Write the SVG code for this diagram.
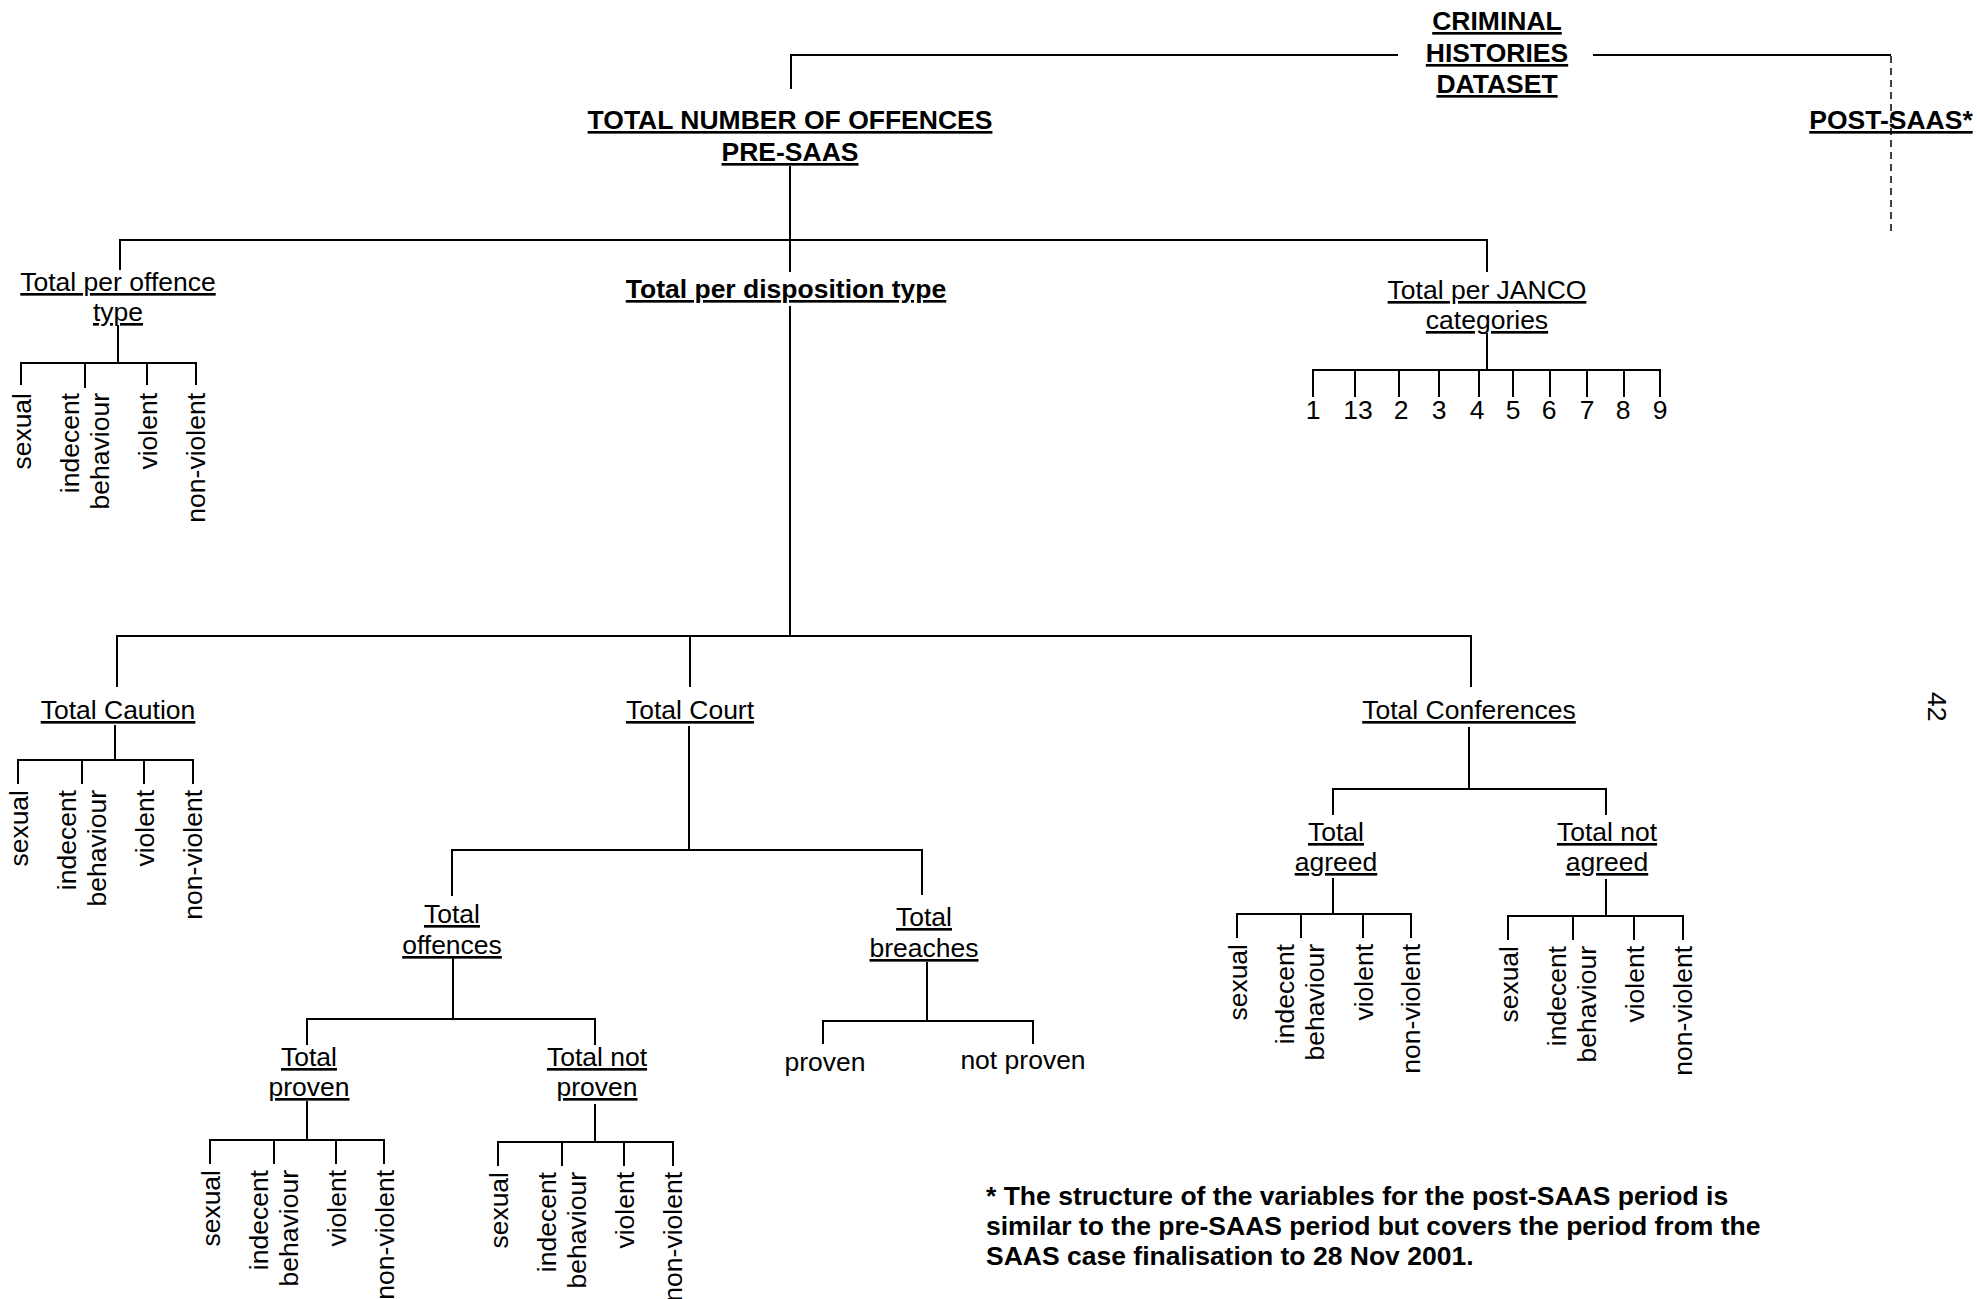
<svg xmlns="http://www.w3.org/2000/svg" width="1980" height="1299" viewBox="0 0 1980 1299">
<style>
text{font-family:"Liberation Sans",Arial,Helvetica,sans-serif;font-size:26.5px;fill:#000}
.b{font-weight:bold}
.u{text-decoration:underline}
.c{text-anchor:middle}
.e{text-anchor:end}
.cn line,.cn path{stroke:#000;stroke-width:2;fill:none}
.cn .d{stroke-width:1.5;stroke-dasharray:7 5}
</style>
<rect width="1980" height="1299" fill="#fff"/>
<g id="connectors" class="cn">
<path d="M791,89 V55 H1398 M1593,55 H1891"/>
<line class="d" x1="1891" y1="56" x2="1891" y2="231"/>
<path d="M790,166 V272 M790,306 V636"/>
<path d="M120,270 V240 H1487 V272"/>
<path d="M118,325 V363 M21,385 V363 H196 V385 M85,363 V388 M147,363 V385"/>
<path d="M1487,333 V370 M1313,397 V370 H1660 V397 M1355,370 V397 M1399,370 V397 M1439,370 V397 M1479,370 V397 M1513,370 V397 M1550,370 V397 M1587,370 V397 M1624,370 V397"/>
<path d="M117,687 V636 H1471 V687 M690,636 V687"/>
<path d="M115,725 V760 M18,784 V760 H193 V784 M82,760 V784 M144,760 V784"/>
<path d="M689,726 V850 M452,896 V850 H922 V895"/>
<path d="M453,958 V1019 M307,1045 V1019 H595 V1045"/>
<path d="M307,1101 V1140 M210,1164 V1140 H384 V1164 M274,1140 V1164 M336,1140 V1164"/>
<path d="M595,1104 V1142 M498,1166 V1142 H673 V1166 M562,1142 V1166 M624,1142 V1166"/>
<path d="M927,962 V1021 M823,1044 V1021 H1033 V1044"/>
<path d="M1469,727 V789 M1333,815 V789 H1606 V815"/>
<path d="M1333,878 V914 M1237,938 V914 H1411 V938 M1301,914 V938 M1363,914 V938"/>
<path d="M1606,879 V916 M1508,940 V916 H1683 V940 M1573,916 V940 M1634,916 V940"/>
</g>
<g id="n-criminal"><text class="b u c"><tspan x="1497" y="30">CRIMINAL</tspan><tspan x="1497" y="62">HISTORIES</tspan><tspan x="1497" y="93">DATASET</tspan></text></g>
<g id="n-pre"><text class="b u c"><tspan x="790" y="129">TOTAL NUMBER OF OFFENCES</tspan><tspan x="790" y="161">PRE-SAAS</tspan></text></g>
<g id="n-post"><text class="b u c" x="1891" y="129">POST-SAAS*</text></g>
<g id="n-offtype"><text class="u c"><tspan x="118" y="291">Total per offence</tspan><tspan x="118" y="321">type</tspan></text></g>
<g id="n-disp"><text class="b u c" x="786" y="298">Total per disposition type</text></g>
<g id="n-janco"><text class="u c"><tspan x="1487" y="299">Total per JANCO</tspan><tspan x="1487" y="329">categories</tspan></text></g>
<g id="n-janco-leaves">
<text class="c" x="1313" y="419">1</text><text class="c" x="1358" y="419">13</text><text class="c" x="1401" y="419">2</text><text class="c" x="1439" y="419">3</text><text class="c" x="1477" y="419">4</text><text class="c" x="1513" y="419">5</text><text class="c" x="1549" y="419">6</text><text class="c" x="1587" y="419">7</text><text class="c" x="1623" y="419">8</text><text class="c" x="1660" y="419">9</text>
</g>
<g id="n-offtype-leaves">
<text class="e" transform="translate(31,393) rotate(-90)">sexual</text>
<text class="e" transform="translate(79,393) rotate(-90)"><tspan x="0" y="0">indecent</tspan><tspan x="0" y="30">behaviour</tspan></text>
<text class="e" transform="translate(157,393) rotate(-90)">violent</text>
<text class="e" transform="translate(205,393) rotate(-90)">non-violent</text>
</g>
<g id="n-caution"><text class="u c" x="118" y="719">Total Caution</text></g>
<g id="n-caution-leaves">
<text class="e" transform="translate(28,790) rotate(-90)">sexual</text>
<text class="e" transform="translate(76,790) rotate(-90)"><tspan x="0" y="0">indecent</tspan><tspan x="0" y="30">behaviour</tspan></text>
<text class="e" transform="translate(154,790) rotate(-90)">violent</text>
<text class="e" transform="translate(202,790) rotate(-90)">non-violent</text>
</g>
<g id="n-court"><text class="u c" x="690" y="719">Total Court</text></g>
<g id="n-offences"><text class="u c"><tspan x="452" y="923">Total</tspan><tspan x="452" y="954">offences</tspan></text></g>
<g id="n-breaches"><text class="u c"><tspan x="924" y="926">Total</tspan><tspan x="924" y="957">breaches</tspan></text></g>
<g id="n-b-proven"><text class="c" x="825" y="1071">proven</text></g>
<g id="n-b-notproven"><text class="c" x="1023" y="1069">not proven</text></g>
<g id="n-proven"><text class="u c"><tspan x="309" y="1066">Total</tspan><tspan x="309" y="1096">proven</tspan></text></g>
<g id="n-proven-leaves">
<text class="e" transform="translate(220,1170) rotate(-90)">sexual</text>
<text class="e" transform="translate(268,1170) rotate(-90)"><tspan x="0" y="0">indecent</tspan><tspan x="0" y="30">behaviour</tspan></text>
<text class="e" transform="translate(346,1170) rotate(-90)">violent</text>
<text class="e" transform="translate(394,1170) rotate(-90)">non-violent</text>
</g>
<g id="n-notproven"><text class="u c"><tspan x="597" y="1066">Total not</tspan><tspan x="597" y="1096">proven</tspan></text></g>
<g id="n-notproven-leaves">
<text class="e" transform="translate(508,1172) rotate(-90)">sexual</text>
<text class="e" transform="translate(556,1172) rotate(-90)"><tspan x="0" y="0">indecent</tspan><tspan x="0" y="30">behaviour</tspan></text>
<text class="e" transform="translate(634,1172) rotate(-90)">violent</text>
<text class="e" transform="translate(682,1172) rotate(-90)">non-violent</text>
</g>
<g id="n-conf"><text class="u c" x="1469" y="719">Total Conferences</text></g>
<g id="n-agreed"><text class="u c"><tspan x="1336" y="841">Total</tspan><tspan x="1336" y="871">agreed</tspan></text></g>
<g id="n-agreed-leaves">
<text class="e" transform="translate(1247,944) rotate(-90)">sexual</text>
<text class="e" transform="translate(1294,944) rotate(-90)"><tspan x="0" y="0">indecent</tspan><tspan x="0" y="30">behaviour</tspan></text>
<text class="e" transform="translate(1373,944) rotate(-90)">violent</text>
<text class="e" transform="translate(1420,944) rotate(-90)">non-violent</text>
</g>
<g id="n-notagreed"><text class="u c"><tspan x="1607" y="841">Total not</tspan><tspan x="1607" y="871">agreed</tspan></text></g>
<g id="n-notagreed-leaves">
<text class="e" transform="translate(1518,946) rotate(-90)">sexual</text>
<text class="e" transform="translate(1566,946) rotate(-90)"><tspan x="0" y="0">indecent</tspan><tspan x="0" y="30">behaviour</tspan></text>
<text class="e" transform="translate(1644,946) rotate(-90)">violent</text>
<text class="e" transform="translate(1692,946) rotate(-90)">non-violent</text>
</g>
<g id="footnote"><text class="b"><tspan x="986" y="1205">* The structure of the variables for the post-SAAS period is</tspan><tspan x="986" y="1235">similar to the pre-SAAS period but covers the period from the</tspan><tspan x="986" y="1265">SAAS case finalisation to 28 Nov 2001.</tspan></text></g>
<g id="page-number"><text transform="translate(1928,692) rotate(90)">42</text></g>
</svg>
